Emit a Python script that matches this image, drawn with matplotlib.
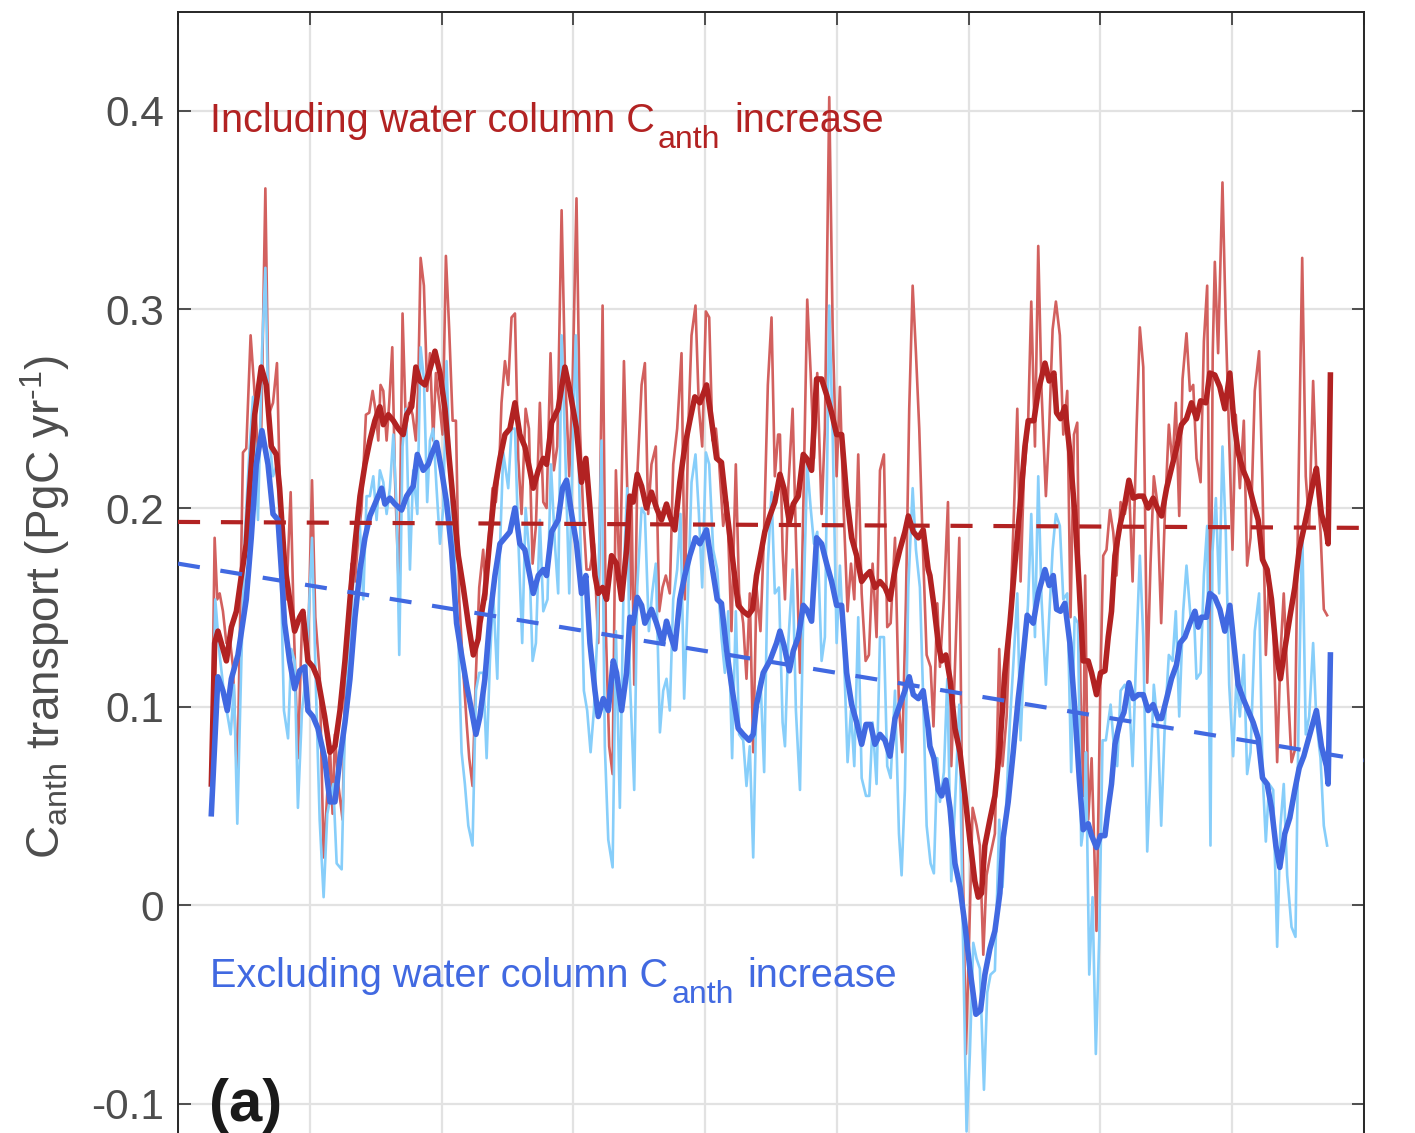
import numpy as np
import matplotlib
matplotlib.use("Agg")
import matplotlib.pyplot as plt

plt.rcParams['font.family'] = ['Liberation Sans', 'DejaVu Sans']
plt.rcParams['mathtext.fontset'] = 'custom'
plt.rcParams['mathtext.rm'] = 'Liberation Sans'
plt.rcParams['mathtext.it'] = 'Liberation Sans:italic'
plt.rcParams['mathtext.bf'] = 'Liberation Sans:bold'
plt.rcParams['axes.unicode_minus'] = False

# ---------------- data (decimal years, PgC/yr) ----------------
# thick red: including water column Canth increase (smoothed)
inc_smooth_t = [2004.253, 2004.278, 2004.303, 2004.367, 2004.405, 2004.443, 2004.481, 2004.518, 2004.544, 2004.582, 2004.632, 2004.670, 2004.708, 2004.746, 2004.771, 2004.809, 2004.847, 2004.885, 2004.923, 2004.948, 2004.986, 2005.024, 2005.062, 2005.113,
                2005.153, 2005.191, 2005.229, 2005.267, 2005.305, 2005.343, 2005.381, 2005.419, 2005.456, 2005.494, 2005.532, 2005.558, 2005.596, 2005.634, 2005.671, 2005.709, 2005.735, 2005.773, 2005.805, 2005.836, 2005.874, 2005.912, 2005.950, 2005.988, 2006.026, 2006.058, 2006.089, 2006.127, 2006.165, 2006.203, 2006.241, 2006.278,
                2006.291, 2006.329, 2006.367, 2006.405, 2006.443, 2006.481, 2006.519, 2006.557, 2006.594, 2006.632, 2006.670, 2006.696, 2006.734, 2006.772, 2006.797, 2006.835, 2006.885, 2006.936, 2006.974, 2007.024, 2007.062, 2007.095, 2007.126, 2007.164, 2007.189, 2007.222, 2007.252, 2007.290, 2007.328, 2007.366, 2007.404,
                2007.429, 2007.454, 2007.485, 2007.518, 2007.555, 2007.593, 2007.631, 2007.669, 2007.707, 2007.732, 2007.770, 2007.808, 2007.846, 2007.884, 2007.922, 2007.960, 2008.011, 2008.049, 2008.087, 2008.124, 2008.162, 2008.200, 2008.251, 2008.289, 2008.327, 2008.360, 2008.390, 2008.428, 2008.453, 2008.491, 2008.529,
                2008.568, 2008.598, 2008.639, 2008.669, 2008.707, 2008.745, 2008.770, 2008.808, 2008.846, 2008.884, 2008.922, 2008.960, 2008.998, 2009.036, 2009.074, 2009.112, 2009.150, 2009.188, 2009.221, 2009.251, 2009.289, 2009.327, 2009.365, 2009.403, 2009.441, 2009.478, 2009.516, 2009.542, 2009.580, 2009.618, 2009.655, 2009.693,
                2009.706, 2009.736, 2009.769, 2009.795, 2009.827, 2009.858, 2009.896, 2009.934, 2009.972, 2010.009, 2010.047, 2010.073, 2010.098, 2010.123, 2010.161, 2010.199, 2010.237, 2010.275, 2010.313, 2010.351, 2010.389, 2010.427, 2010.452, 2010.495, 2010.528, 2010.579, 2010.611, 2010.647, 2010.667, 2010.697, 2010.730, 2010.768, 2010.806, 2010.839,
                2010.869, 2010.907, 2010.933, 2010.970, 2011.001, 2011.034, 2011.059, 2011.084, 2011.110, 2011.147, 2011.185, 2011.216, 2011.249, 2011.287, 2011.325, 2011.362, 2011.400, 2011.438, 2011.464, 2011.502, 2011.539, 2011.577, 2011.615, 2011.653, 2011.691, 2011.729, 2011.760, 2011.800,
                2011.830, 2011.868, 2011.906, 2011.944, 2011.982, 2012.012, 2012.045, 2012.083, 2012.121, 2012.159, 2012.197, 2012.230, 2012.265, 2012.298, 2012.336, 2012.366, 2012.399, 2012.437, 2012.475, 2012.508, 2012.538, 2012.576, 2012.614, 2012.639, 2012.677, 2012.715, 2012.728, 2012.745]
inc_smooth_v = [0.061, 0.132, 0.138, 0.123, 0.140, 0.148, 0.166, 0.182, 0.210, 0.247, 0.271, 0.262, 0.231, 0.227, 0.210, 0.172, 0.154, 0.138, 0.145, 0.148, 0.123, 0.120, 0.114, 0.095,
                0.077, 0.080, 0.098, 0.123, 0.154, 0.182, 0.206, 0.222, 0.234, 0.244, 0.251, 0.242, 0.247, 0.244, 0.240, 0.237, 0.247, 0.251, 0.271, 0.264, 0.262, 0.270, 0.279, 0.268, 0.250, 0.225, 0.203, 0.176, 0.160, 0.142, 0.126, 0.134,
                0.142, 0.157, 0.185, 0.210, 0.225, 0.237, 0.240, 0.253, 0.237, 0.231, 0.219, 0.210, 0.219, 0.225, 0.222, 0.243, 0.250, 0.271, 0.259, 0.240, 0.213, 0.225, 0.200, 0.166, 0.157, 0.160, 0.154, 0.176, 0.172, 0.154, 0.179,
                0.206, 0.203, 0.217, 0.211, 0.200, 0.208, 0.200, 0.194, 0.202, 0.196, 0.189, 0.213, 0.231, 0.244, 0.256, 0.253, 0.262, 0.244, 0.225, 0.223, 0.200, 0.179, 0.151, 0.148, 0.146, 0.149, 0.166, 0.179, 0.188, 0.196, 0.203,
                0.217, 0.210, 0.193, 0.202, 0.206, 0.227, 0.225, 0.219, 0.265, 0.265, 0.257, 0.248, 0.237, 0.237, 0.206, 0.185, 0.176, 0.163, 0.166, 0.168, 0.160, 0.163, 0.160, 0.154, 0.169, 0.179, 0.188, 0.196, 0.188, 0.185, 0.189, 0.169,
                0.166, 0.151, 0.132, 0.123, 0.126, 0.114, 0.089, 0.077, 0.055, 0.033, 0.012, 0.004, 0.006, 0.030, 0.043, 0.055, 0.080, 0.117, 0.142, 0.172, 0.200, 0.231, 0.244, 0.244, 0.259, 0.273, 0.264, 0.268, 0.248, 0.245, 0.251, 0.228, 0.197, 0.160,
                0.123, 0.123, 0.117, 0.106, 0.117, 0.118, 0.135, 0.148, 0.176, 0.191, 0.202, 0.214, 0.205, 0.206, 0.206, 0.200, 0.205, 0.199, 0.196, 0.210, 0.220, 0.230, 0.242, 0.245, 0.253, 0.245, 0.254, 0.253,
                0.268, 0.267, 0.261, 0.250, 0.268, 0.244, 0.228, 0.219, 0.213, 0.203, 0.194, 0.174, 0.169, 0.154, 0.126, 0.114, 0.129, 0.145, 0.160, 0.179, 0.188, 0.200, 0.213, 0.220, 0.197, 0.188, 0.182, 0.267]

# thick blue: excluding water column Canth increase (smoothed)
exc_smooth_t = [2004.253, 2004.303, 2004.341, 2004.374, 2004.405, 2004.455, 2004.518, 2004.556, 2004.594, 2004.637, 2004.683, 2004.721, 2004.759, 2004.784, 2004.809, 2004.847, 2004.885, 2004.923, 2004.961, 2004.986, 2005.024, 2005.062, 2005.113,
                2005.153, 2005.191, 2005.229, 2005.267, 2005.305, 2005.343, 2005.381, 2005.419, 2005.456, 2005.494, 2005.545, 2005.570, 2005.608, 2005.646, 2005.697, 2005.735, 2005.785, 2005.816, 2005.861, 2005.899, 2005.924, 2005.962, 2006.000, 2006.038, 2006.076, 2006.114, 2006.152, 2006.190, 2006.228, 2006.261,
                2006.291, 2006.329, 2006.367, 2006.405, 2006.443, 2006.481, 2006.519, 2006.557, 2006.594, 2006.632, 2006.670, 2006.696, 2006.734, 2006.772, 2006.797, 2006.835, 2006.885, 2006.918, 2006.949, 2006.987, 2007.024, 2007.062, 2007.095, 2007.126, 2007.164, 2007.189, 2007.227, 2007.265, 2007.303, 2007.328, 2007.366, 2007.404,
                2007.429, 2007.454, 2007.485, 2007.518, 2007.543, 2007.593, 2007.631, 2007.677, 2007.707, 2007.732, 2007.770, 2007.808, 2007.846, 2007.884, 2007.927, 2007.960, 2008.011, 2008.049, 2008.092, 2008.124, 2008.162, 2008.200, 2008.251, 2008.289, 2008.334, 2008.365, 2008.390, 2008.441, 2008.491, 2008.542,
                2008.568, 2008.598, 2008.639, 2008.669, 2008.707, 2008.745, 2008.770, 2008.808, 2008.846, 2008.884, 2008.922, 2008.960, 2008.998, 2009.036, 2009.074, 2009.112, 2009.150, 2009.188, 2009.221, 2009.256, 2009.289, 2009.327, 2009.365, 2009.403, 2009.441, 2009.478, 2009.516, 2009.549, 2009.580, 2009.618, 2009.655, 2009.693,
                2009.706, 2009.736, 2009.769, 2009.795, 2009.827, 2009.858, 2009.896, 2009.934, 2009.972, 2010.009, 2010.055, 2010.090, 2010.123, 2010.161, 2010.199, 2010.237, 2010.262, 2010.300, 2010.338, 2010.376, 2010.414, 2010.444, 2010.490, 2010.528, 2010.579, 2010.611, 2010.642, 2010.667, 2010.697, 2010.730, 2010.768, 2010.806, 2010.839,
                2010.869, 2010.907, 2010.933, 2010.970, 2011.001, 2011.034, 2011.059, 2011.084, 2011.110, 2011.147, 2011.178, 2011.216, 2011.249, 2011.287, 2011.325, 2011.362, 2011.400, 2011.438, 2011.464, 2011.502, 2011.539, 2011.577, 2011.603, 2011.641, 2011.679, 2011.717, 2011.742, 2011.767, 2011.805,
                2011.830, 2011.868, 2011.906, 2011.944, 2011.982, 2012.012, 2012.045, 2012.083, 2012.121, 2012.159, 2012.197, 2012.230, 2012.265, 2012.298, 2012.331, 2012.361, 2012.399, 2012.437, 2012.475, 2012.508, 2012.543, 2012.576, 2012.614, 2012.639, 2012.677, 2012.715, 2012.728, 2012.745]
exc_smooth_v = [0.046, 0.115, 0.108, 0.098, 0.114, 0.126, 0.154, 0.185, 0.222, 0.239, 0.222, 0.197, 0.194, 0.169, 0.142, 0.123, 0.109, 0.118, 0.120, 0.098, 0.095, 0.089, 0.074,
                0.052, 0.052, 0.074, 0.092, 0.114, 0.145, 0.169, 0.185, 0.196, 0.202, 0.210, 0.202, 0.205, 0.202, 0.199, 0.206, 0.211, 0.227, 0.219, 0.222, 0.227, 0.233, 0.219, 0.203, 0.179, 0.142, 0.126, 0.111, 0.098, 0.086,
                0.095, 0.114, 0.145, 0.166, 0.182, 0.185, 0.188, 0.200, 0.182, 0.179, 0.166, 0.157, 0.166, 0.169, 0.166, 0.188, 0.194, 0.210, 0.214, 0.197, 0.182, 0.157, 0.166, 0.132, 0.108, 0.095, 0.104, 0.098, 0.123, 0.117, 0.098, 0.117,
                0.145, 0.142, 0.155, 0.151, 0.142, 0.149, 0.142, 0.132, 0.143, 0.137, 0.129, 0.154, 0.166, 0.176, 0.185, 0.182, 0.189, 0.172, 0.154, 0.152, 0.129, 0.111, 0.089, 0.086, 0.083, 0.086, 0.101, 0.117, 0.123, 0.132,
                0.138, 0.131, 0.118, 0.128, 0.135, 0.151, 0.149, 0.143, 0.185, 0.182, 0.172, 0.163, 0.151, 0.151, 0.117, 0.101, 0.092, 0.081, 0.091, 0.091, 0.081, 0.086, 0.083, 0.075, 0.094, 0.101, 0.108, 0.115, 0.106, 0.104, 0.108, 0.089,
                0.080, 0.074, 0.058, 0.055, 0.063, 0.049, 0.021, 0.009, -0.010, -0.032, -0.055, -0.053, -0.035, -0.022, -0.013, 0.006, 0.034, 0.052, 0.077, 0.104, 0.126, 0.146, 0.142, 0.157, 0.169, 0.161, 0.166, 0.149, 0.148, 0.152, 0.132, 0.098, 0.064,
                0.038, 0.041, 0.035, 0.029, 0.035, 0.035, 0.049, 0.061, 0.081, 0.092, 0.097, 0.112, 0.104, 0.106, 0.106, 0.098, 0.101, 0.094, 0.094, 0.104, 0.114, 0.121, 0.132, 0.135, 0.142, 0.148, 0.140, 0.145, 0.145,
                0.157, 0.155, 0.149, 0.138, 0.151, 0.132, 0.111, 0.104, 0.098, 0.092, 0.084, 0.064, 0.061, 0.049, 0.030, 0.019, 0.036, 0.044, 0.058, 0.069, 0.075, 0.083, 0.092, 0.098, 0.080, 0.070, 0.061, 0.126]

# thin red: including, unsmoothed
inc_raw_t = [2004.253, 2004.278, 2004.298, 2004.316, 2004.341, 2004.367, 2004.392, 2004.417, 2004.450, 2004.475, 2004.493, 2004.518, 2004.551, 2004.577, 2004.607, 2004.632, 2004.663, 2004.688, 2004.721, 2004.751, 2004.771, 2004.797, 2004.822, 2004.855, 2004.880, 2004.910, 2004.941, 2004.986, 2005.017, 2005.042, 2005.075, 2005.105,
             2005.153, 2005.173, 2005.191, 2005.216, 2005.249, 2005.267, 2005.292, 2005.317, 2005.343, 2005.368, 2005.393, 2005.426, 2005.451, 2005.477, 2005.497, 2005.520, 2005.537, 2005.558, 2005.583, 2005.603, 2005.626, 2005.646, 2005.677, 2005.704, 2005.730, 2005.755, 2005.780, 2005.805, 2005.823, 2005.841, 2005.866, 2005.891, 2005.912, 2005.937, 2005.957, 2005.983, 2006.008, 2006.033, 2006.058, 2006.084, 2006.109, 2006.134, 2006.160, 2006.190, 2006.210, 2006.235, 2006.261, 2006.286,
             2006.316, 2006.337, 2006.362, 2006.387, 2006.412, 2006.438, 2006.455, 2006.481, 2006.506, 2006.531, 2006.557, 2006.582, 2006.607, 2006.638, 2006.663, 2006.691, 2006.716, 2006.746, 2006.772, 2006.797, 2006.827, 2006.852, 2006.878, 2006.911, 2006.936, 2006.969, 2006.994, 2007.024, 2007.050, 2007.075, 2007.100, 2007.126, 2007.156, 2007.189, 2007.222, 2007.247, 2007.272, 2007.298, 2007.323, 2007.353, 2007.384, 2007.409,
             2007.429, 2007.442, 2007.462, 2007.485, 2007.518, 2007.543, 2007.568, 2007.593, 2007.626, 2007.652, 2007.677, 2007.702, 2007.732, 2007.758, 2007.788, 2007.821, 2007.846, 2007.872, 2007.897, 2007.927, 2007.953, 2007.978, 2008.006, 2008.031, 2008.056, 2008.082, 2008.107, 2008.137, 2008.167, 2008.200, 2008.233, 2008.258, 2008.289, 2008.314, 2008.339, 2008.365, 2008.390, 2008.420, 2008.446, 2008.476, 2008.504, 2008.529, 2008.554,
             2008.568, 2008.588, 2008.606, 2008.631, 2008.664, 2008.689, 2008.720, 2008.745, 2008.775, 2008.801, 2008.826, 2008.851, 2008.884, 2008.909, 2008.942, 2008.968, 2008.998, 2009.023, 2009.049, 2009.081, 2009.107, 2009.132, 2009.162, 2009.188, 2009.218, 2009.243, 2009.271, 2009.301, 2009.327, 2009.357, 2009.382, 2009.408, 2009.441, 2009.471, 2009.496, 2009.524, 2009.549, 2009.575, 2009.600, 2009.625, 2009.650, 2009.681,
             2009.711, 2009.733, 2009.762, 2009.782, 2009.812, 2009.843, 2009.868, 2009.893, 2009.929, 2009.954, 2009.979, 2010.004, 2010.030, 2010.060, 2010.085, 2010.111, 2010.136, 2010.161, 2010.199, 2010.232, 2010.257, 2010.288, 2010.313, 2010.343, 2010.369, 2010.394, 2010.419, 2010.450, 2010.475, 2010.503, 2010.528, 2010.553, 2010.586, 2010.611, 2010.637, 2010.662, 2010.692, 2010.718, 2010.748, 2010.773, 2010.799, 2010.824, 2010.849, 2010.869, 2010.884, 2010.907, 2010.933, 2010.950, 2010.970,
             2011.001, 2011.021, 2011.046, 2011.072, 2011.097, 2011.122, 2011.153, 2011.185, 2011.218, 2011.244, 2011.274, 2011.299, 2011.325, 2011.355, 2011.380, 2011.405, 2011.431, 2011.461, 2011.489, 2011.519, 2011.547, 2011.572, 2011.598, 2011.623, 2011.653, 2011.679, 2011.704, 2011.729, 2011.760, 2011.785, 2011.810,
             2011.835, 2011.852, 2011.868, 2011.893, 2011.926, 2011.951, 2011.977, 2012.002, 2012.027, 2012.058, 2012.088, 2012.113, 2012.139, 2012.171, 2012.204, 2012.230, 2012.255, 2012.280, 2012.311, 2012.341, 2012.366, 2012.391, 2012.417, 2012.450, 2012.475, 2012.500, 2012.531, 2012.558, 2012.584, 2012.614, 2012.639, 2012.670, 2012.695, 2012.720]
inc_raw_v = [0.061, 0.185, 0.154, 0.157, 0.148, 0.132, 0.135, 0.120, 0.061, 0.157, 0.228, 0.230, 0.287, 0.262, 0.228, 0.240, 0.361, 0.247, 0.253, 0.273, 0.216, 0.176, 0.154, 0.208, 0.138, 0.074, 0.142, 0.126, 0.214, 0.145, 0.117, 0.024,
             0.080, 0.046, 0.086, 0.061, 0.043, 0.108, 0.145, 0.172, 0.163, 0.185, 0.200, 0.247, 0.248, 0.259, 0.250, 0.234, 0.262, 0.259, 0.234, 0.253, 0.281, 0.216, 0.157, 0.298, 0.240, 0.253, 0.247, 0.234, 0.262, 0.326, 0.312, 0.259, 0.278, 0.234, 0.268, 0.253, 0.237, 0.327, 0.290, 0.244, 0.244, 0.154, 0.123, 0.092, 0.074, 0.060, 0.117, 0.160,
             0.179, 0.154, 0.188, 0.210, 0.203, 0.222, 0.253, 0.274, 0.262, 0.296, 0.298, 0.225, 0.197, 0.250, 0.240, 0.172, 0.191, 0.253, 0.203, 0.200, 0.278, 0.219, 0.231, 0.350, 0.271, 0.216, 0.262, 0.356, 0.240, 0.197, 0.169, 0.169, 0.182, 0.132, 0.302, 0.138, 0.080, 0.066, 0.219, 0.160, 0.274, 0.210,
             0.154, 0.203, 0.111, 0.216, 0.262, 0.273, 0.197, 0.222, 0.231, 0.148, 0.160, 0.166, 0.157, 0.222, 0.240, 0.278, 0.154, 0.240, 0.287, 0.302, 0.250, 0.231, 0.299, 0.296, 0.234, 0.240, 0.222, 0.191, 0.203, 0.138, 0.222, 0.157, 0.142, 0.114, 0.157, 0.077, 0.160, 0.138, 0.185, 0.262, 0.296, 0.216, 0.237,
             0.237, 0.179, 0.154, 0.210, 0.250, 0.185, 0.117, 0.200, 0.305, 0.268, 0.225, 0.268, 0.197, 0.240, 0.407, 0.290, 0.216, 0.261, 0.203, 0.148, 0.172, 0.154, 0.227, 0.157, 0.123, 0.126, 0.172, 0.135, 0.219, 0.227, 0.140, 0.142, 0.185, 0.100, 0.077, 0.154, 0.250, 0.312, 0.278, 0.240, 0.185, 0.126,
             0.120, 0.090, 0.152, 0.120, 0.154, 0.203, 0.070, 0.114, 0.185, 0.030, -0.075, -0.016, 0.049, 0.040, 0.030, -0.025, 0.015, 0.024, 0.036, 0.129, 0.070, 0.095, 0.142, 0.197, 0.250, 0.163, 0.216, 0.240, 0.304, 0.231, 0.332, 0.259, 0.206, 0.240, 0.290, 0.304, 0.287, 0.237, 0.259, 0.145, 0.237, 0.243, 0.108, 0.055, 0.166, 0.043, 0.074, 0.036, -0.013,
             0.117, 0.176, 0.179, 0.199, 0.188, 0.166, 0.203, 0.197, 0.210, 0.163, 0.240, 0.291, 0.271, 0.112, 0.172, 0.216, 0.203, 0.142, 0.197, 0.242, 0.222, 0.253, 0.196, 0.265, 0.288, 0.259, 0.262, 0.225, 0.213, 0.284, 0.312,
             0.104, 0.278, 0.324, 0.278, 0.364, 0.293, 0.234, 0.179, 0.247, 0.210, 0.244, 0.171, 0.185, 0.259, 0.279, 0.210, 0.126, 0.166, 0.142, 0.072, 0.126, 0.157, 0.117, 0.072, 0.078, 0.200, 0.326, 0.216, 0.191, 0.264, 0.216, 0.188, 0.149, 0.146]

# thin blue: excluding, unsmoothed
exc_raw_t = [2004.253, 2004.283, 2004.316, 2004.354, 2004.400, 2004.425, 2004.450, 2004.481, 2004.506, 2004.544, 2004.569, 2004.607, 2004.637, 2004.663, 2004.688, 2004.721, 2004.751, 2004.771, 2004.804, 2004.835, 2004.860, 2004.885, 2004.910, 2004.941, 2004.974, 2005.017, 2005.050, 2005.075, 2005.105, 2005.133,
             2005.178, 2005.204, 2005.242, 2005.267, 2005.292, 2005.317, 2005.343, 2005.376, 2005.406, 2005.431, 2005.456, 2005.482, 2005.507, 2005.532, 2005.558, 2005.583, 2005.608, 2005.634, 2005.659, 2005.679, 2005.704, 2005.730, 2005.760, 2005.785, 2005.816, 2005.841, 2005.866, 2005.891, 2005.912, 2005.937, 2005.962, 2005.988, 2006.013, 2006.038, 2006.063, 2006.094, 2006.127, 2006.152, 2006.177, 2006.203, 2006.235, 2006.261, 2006.286,
             2006.316, 2006.342, 2006.367, 2006.392, 2006.423, 2006.443, 2006.468, 2006.506, 2006.531, 2006.557, 2006.582, 2006.612, 2006.638, 2006.663, 2006.691, 2006.716, 2006.746, 2006.772, 2006.804, 2006.830, 2006.860, 2006.885, 2006.911, 2006.936, 2006.969, 2006.994, 2007.019, 2007.050, 2007.080, 2007.105, 2007.131, 2007.156, 2007.181, 2007.214, 2007.239, 2007.265, 2007.298, 2007.323, 2007.353, 2007.384, 2007.409,
             2007.429, 2007.462, 2007.485, 2007.518, 2007.543, 2007.573, 2007.598, 2007.626, 2007.657, 2007.682, 2007.707, 2007.732, 2007.758, 2007.788, 2007.813, 2007.841, 2007.872, 2007.897, 2007.927, 2007.953, 2007.978, 2008.006, 2008.031, 2008.061, 2008.092, 2008.124, 2008.150, 2008.175, 2008.205, 2008.233, 2008.258, 2008.289, 2008.314, 2008.339, 2008.365, 2008.390, 2008.420, 2008.448, 2008.476, 2008.504, 2008.529, 2008.560,
             2008.588, 2008.606, 2008.631, 2008.664, 2008.689, 2008.720, 2008.745, 2008.775, 2008.801, 2008.826, 2008.851, 2008.884, 2008.909, 2008.942, 2008.968, 2008.998, 2009.023, 2009.049, 2009.081, 2009.107, 2009.132, 2009.162, 2009.188, 2009.221, 2009.246, 2009.271, 2009.301, 2009.327, 2009.357, 2009.382, 2009.408, 2009.441, 2009.471, 2009.491, 2009.516, 2009.542, 2009.575, 2009.600, 2009.630, 2009.655, 2009.681, 2009.711, 2009.736,
             2009.762, 2009.782, 2009.812, 2009.838, 2009.868, 2009.893, 2009.929, 2009.954, 2009.984, 2010.009, 2010.035, 2010.060, 2010.085, 2010.116, 2010.141, 2010.166, 2010.199, 2010.232, 2010.257, 2010.288, 2010.313, 2010.343, 2010.369, 2010.394, 2010.419, 2010.450, 2010.475, 2010.503, 2010.528, 2010.553, 2010.586, 2010.611, 2010.637, 2010.662, 2010.692, 2010.718, 2010.748, 2010.778, 2010.804, 2010.829, 2010.854, 2010.879, 2010.890, 2010.915, 2010.940, 2010.965, 2010.991,
             2011.016, 2011.041, 2011.077, 2011.102, 2011.127, 2011.153, 2011.185, 2011.218, 2011.244, 2011.274, 2011.299, 2011.325, 2011.355, 2011.380, 2011.405, 2011.436, 2011.461, 2011.489, 2011.519, 2011.547, 2011.572, 2011.598, 2011.628, 2011.653, 2011.684, 2011.709, 2011.729, 2011.760, 2011.785, 2011.810,
             2011.835, 2011.850, 2011.876, 2011.901, 2011.926, 2011.951, 2011.977, 2012.007, 2012.032, 2012.058, 2012.088, 2012.113, 2012.139, 2012.171, 2012.204, 2012.230, 2012.255, 2012.280, 2012.311, 2012.341, 2012.366, 2012.391, 2012.417, 2012.450, 2012.480, 2012.505, 2012.531, 2012.558, 2012.584, 2012.614, 2012.639, 2012.670, 2012.695, 2012.720]
exc_raw_v = [0.046, 0.154, 0.126, 0.104, 0.086, 0.111, 0.041, 0.123, 0.185, 0.231, 0.256, 0.194, 0.278, 0.321, 0.240, 0.216, 0.222, 0.194, 0.098, 0.084, 0.129, 0.123, 0.049, 0.098, 0.117, 0.185, 0.101, 0.043, 0.004, 0.046,
             0.061, 0.021, 0.018, 0.092, 0.123, 0.148, 0.179, 0.197, 0.154, 0.206, 0.206, 0.216, 0.194, 0.219, 0.213, 0.197, 0.210, 0.237, 0.200, 0.126, 0.231, 0.250, 0.169, 0.219, 0.197, 0.281, 0.265, 0.203, 0.234, 0.240, 0.210, 0.182, 0.200, 0.274, 0.216, 0.182, 0.135, 0.077, 0.061, 0.040, 0.030, 0.108, 0.117,
             0.117, 0.074, 0.123, 0.157, 0.114, 0.179, 0.228, 0.210, 0.240, 0.240, 0.185, 0.132, 0.200, 0.179, 0.123, 0.132, 0.194, 0.148, 0.154, 0.222, 0.182, 0.157, 0.287, 0.234, 0.157, 0.228, 0.287, 0.197, 0.108, 0.098, 0.077, 0.098, 0.135, 0.234, 0.080, 0.033, 0.019, 0.138, 0.049, 0.172, 0.210,
             0.114, 0.058, 0.160, 0.200, 0.197, 0.138, 0.157, 0.172, 0.087, 0.108, 0.114, 0.098, 0.154, 0.169, 0.197, 0.104, 0.160, 0.213, 0.227, 0.197, 0.160, 0.228, 0.222, 0.179, 0.169, 0.135, 0.117, 0.148, 0.074, 0.148, 0.086, 0.083, 0.060, 0.080, 0.024, 0.104, 0.114, 0.067, 0.172, 0.208, 0.157, 0.160,
             0.092, 0.080, 0.132, 0.169, 0.098, 0.058, 0.148, 0.222, 0.200, 0.182, 0.188, 0.123, 0.135, 0.302, 0.237, 0.132, 0.171, 0.135, 0.072, 0.098, 0.070, 0.145, 0.064, 0.055, 0.055, 0.092, 0.061, 0.135, 0.135, 0.070, 0.064, 0.108, 0.036, 0.015, 0.058, 0.160, 0.210, 0.179, 0.160, 0.104, 0.040, 0.021, 0.016,
             0.074, 0.052, 0.067, 0.114, 0.012, 0.046, 0.101, -0.007, -0.114, -0.075, -0.019, -0.027, -0.032, -0.093, -0.044, -0.035, -0.033, 0.043, 0.009, 0.055, 0.092, 0.126, 0.157, 0.083, 0.123, 0.151, 0.197, 0.135, 0.216, 0.154, 0.111, 0.145, 0.179, 0.197, 0.191, 0.154, 0.157, 0.067, 0.145, 0.142, 0.030, 0.043, 0.077, -0.035, 0.004, -0.075, -0.016,
             0.083, 0.083, 0.101, 0.080, 0.070, 0.108, 0.111, 0.104, 0.070, 0.132, 0.176, 0.135, 0.027, 0.067, 0.111, 0.089, 0.040, 0.092, 0.126, 0.123, 0.148, 0.095, 0.148, 0.171, 0.145, 0.148, 0.114, 0.117, 0.166, 0.191,
             0.030, 0.178, 0.205, 0.157, 0.231, 0.188, 0.111, 0.075, 0.114, 0.095, 0.126, 0.066, 0.077, 0.138, 0.157, 0.067, 0.032, 0.061, 0.058, -0.021, 0.040, 0.061, 0.015, -0.011, -0.016, 0.101, 0.191, 0.086, 0.095, 0.132, 0.092, 0.074, 0.040, 0.030]

# linear trends (start / end of axis)
trend_t = [2004.0, 2013.0]
inc_trend = [0.193, 0.190]
exc_trend = [0.172, 0.073]

year_ticks = list(range(2004, 2014))
y_ticks = [-0.1, 0.0, 0.1, 0.2, 0.3, 0.4]
y_ticklabels = ['-0.1', '0', '0.1', '0.2', '0.3', '0.4']

# ---------------- figure ----------------
W, H = 1415, 1133
fig = plt.figure(figsize=(W / 100, H / 100), dpi=100)
ax_top_px, ax_bot_px = 11.7, 1202.9
ax = fig.add_axes([178 / W, 1 - ax_bot_px / H, (1364 - 178) / W, (ax_bot_px - ax_top_px) / H])

c_red_thin = '#D2605E'
c_blue_thin = '#87CEFA'
c_red = '#B22222'
c_blue = '#4169E1'

ax.plot(inc_raw_t, inc_raw_v, color=c_red_thin, lw=1.9, zorder=2)
ax.plot(exc_raw_t, exc_raw_v, color=c_blue_thin, lw=1.9, zorder=2.1)
ax.plot(inc_smooth_t, inc_smooth_v, color=c_red, lw=4.0, zorder=3)
ax.plot(exc_smooth_t, exc_smooth_v, color=c_blue, lw=4.0, zorder=3.1)
ax.plot(trend_t, inc_trend, color=c_red, lw=3.0, ls=(0, (5.3, 5.0)), zorder=4)
ax.plot(trend_t, exc_trend, color=c_blue, lw=3.0, ls=(0, (5.3, 5.0)), zorder=4)

ax.set_xlim(2004, 2013)
ax.set_ylim(-0.15, 0.45)
ax.set_xticks(year_ticks)
ax.set_yticks(y_ticks)
ax.set_yticklabels(y_ticklabels)
ax.tick_params(axis='both', direction='in', length=9, width=1.1, color='#262626',
               top=True, right=True, labelbottom=False, labelsize=30.5,
               labelcolor='#4D4D4D', pad=10)
ax.grid(True, color='#E2E2E2', lw=1.6)
ax.set_axisbelow(True)
for s in ax.spines.values():
    s.set_color('#262626')
    s.set_linewidth(1.4)


def label_with_sub(x, y, head, sub, tail, color):
    t1 = ax.text(x, y, head, color=color, fontsize=28.5, ha='left', va='baseline')
    t2 = ax.annotate(sub, xy=(1, 0), xycoords=t1, xytext=(2.0, -11.0),
                     textcoords='offset points', color=color, fontsize=23,
                     ha='left', va='bottom')
    ax.annotate(tail, xy=(1, 0), xycoords=t2, xytext=(10.0, 11.0),
                textcoords='offset points', color=color, fontsize=28.5,
                ha='left', va='bottom')


label_with_sub(2004.245, 0.3894, 'Including water column C', 'anth', 'increase', c_red)
label_with_sub(2004.245, -0.0413, 'Excluding water column C', 'anth', 'increase', c_blue)

ax.text(2004.235, -0.1085, '(a)', color='#1A1A1A', fontsize=43, fontweight='bold',
        ha='left', va='baseline')

fig.text(45 / W, 1 - 607 / H, r'C$_{\mathrm{anth}}$ transport (PgC yr$^{\text{-}1}$)',
         rotation=90, ha='center', va='center', fontsize=33, color='#4D4D4D')

fig.savefig('out.png', dpi=100)
